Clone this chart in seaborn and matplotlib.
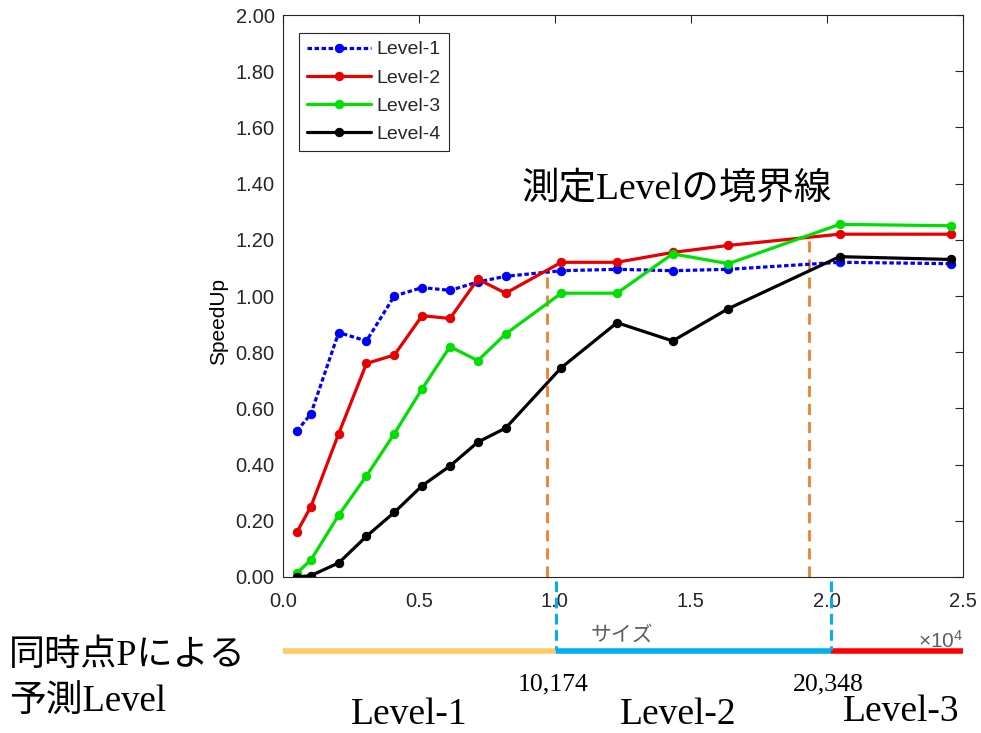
import numpy as np
import pandas as pd
import matplotlib
matplotlib.use("Agg")
import matplotlib.pyplot as plt
import matplotlib.transforms as mtransforms
import seaborn as sns

# ---------------- data ----------------
sizes = [512, 1024, 2048, 3072, 4096, 5120, 6144, 7168, 8192,
         10240, 12288, 14336, 16384, 20480, 24576]
level1 = [0.52, 0.58, 0.87, 0.84, 1.00, 1.03, 1.02, 1.05, 1.07,
          1.09, 1.095, 1.09, 1.095, 1.12, 1.115]
level2 = [0.16, 0.25, 0.51, 0.76, 0.79, 0.93, 0.92, 1.06, 1.01,
          1.12, 1.12, 1.155, 1.18, 1.22, 1.22]
level3 = [0.015, 0.06, 0.22, 0.36, 0.51, 0.67, 0.82, 0.77, 0.865,
          1.01, 1.01, 1.15, 1.115, 1.255, 1.25]
level4 = [0.0, 0.005, 0.05, 0.145, 0.23, 0.325, 0.395, 0.48, 0.53,
          0.745, 0.905, 0.84, 0.955, 1.14, 1.13]
series_names = ["Level-1", "Level-2", "Level-3", "Level-4"]
series_colors = ["#0000FF", "#E80000", "#00E000", "#000000"]

measured_boundaries = [0.970, 1.934]          # x 10^4
predicted_boundaries = [1.004, 2.015]         # x 10^4 (drawn)
predicted_labels = ["10,174", "20,348"]
predicted_levels = ["Level-1", "Level-2", "Level-3"]
predicted_colors = ["#FFCB66", "#00B0F0", "#FF0000"]
x_ticks = [0.0, 0.5, 1.0, 1.5, 2.0, 2.5]
y_ticks = [0.0, 0.2, 0.4, 0.6, 0.8, 1.0, 1.2, 1.4, 1.6, 1.8, 2.0]

# ---------------- style ----------------
sns.set_theme(style="white")
plt.rcParams["font.family"] = ["Liberation Sans", "Noto Sans CJK JP"]
plt.rcParams["mathtext.fontset"] = "custom"
plt.rcParams["mathtext.rm"] = "Liberation Sans"

W, H = 981, 733
fig = plt.figure(figsize=(W / 100, H / 100), dpi=100)
ax = fig.add_axes([283 / W, 1 - 577 / H, 679.5 / W, 562 / H])

x_vals = np.array(sizes) / 1e4
df = pd.DataFrame({"x": x_vals, "Level-1": level1, "Level-2": level2,
                   "Level-3": level3, "Level-4": level4})

for name, col in zip(series_names, series_colors):
    ls = (0, (1.4, 0.8)) if name == "Level-1" else "-"
    sns.lineplot(data=df, x="x", y=name, ax=ax, color=col, linestyle=ls,
                 linewidth=2.3, marker="o", markersize=6,
                 markeredgecolor=col, markerfacecolor=col, label=name)

# measured boundary lines (orange dashed), up to the Level-2 curve
for xb in measured_boundaries:
    ytop = np.interp(xb, x_vals, level2)
    ax.plot([xb, xb], [0, ytop], color="#F07F2A", linewidth=2.0,
            linestyle=(0, (4, 2.5)), zorder=1)

ax.set_xlim(0, 2.5)
ax.set_ylim(0, 2.0)
ax.set_xticks(x_ticks)
ax.set_xticklabels([f"{v:.1f}" for v in x_ticks])
ax.set_yticks(y_ticks)
ax.set_yticklabels([f"{v:.2f}" for v in y_ticks])
ax.tick_params(direction="in", length=6, width=0.8, color="#262626",
               labelcolor="#262626", labelsize=14.5, top=True, right=True)
ax.tick_params(axis="x", pad=11)
ax.tick_params(axis="y", pad=6)
for sp in ax.spines.values():
    sp.set_color("#262626")
    sp.set_linewidth(0.8)
ax.set_xlabel("")
ax.set_ylabel("SpeedUp", fontsize=15, color="#000000")
ax.yaxis.set_label_coords(-0.081, 0.455)

leg = ax.legend(loc="upper left", bbox_to_anchor=(0.0235, 0.968),
                borderaxespad=0, fontsize=14, frameon=True, fancybox=False,
                edgecolor="#262626", framealpha=1, handlelength=3.3,
                handletextpad=0.3, labelspacing=0.55, borderpad=0.4)
leg.get_frame().set_linewidth(0.8)

# ---------------- annotations ----------------
def fx(px):
    return px / W

def fy(py):
    return 1 - py / H

serif = ["Liberation Serif", "Noto Sans CJK JP"]

fig.text(fx(677), fy(190), "測定Levelの境界線", fontsize=27, family=serif,
         ha="center", va="center", color="black")

trans = mtransforms.blended_transform_factory(ax.transData, fig.transFigure)
edges = [0.0] + predicted_boundaries + [2.5]
for i, col in enumerate(predicted_colors):
    ax.plot([edges[i], edges[i + 1]], [fy(651), fy(651)], color=col,
            linewidth=4, solid_capstyle="butt", transform=trans, clip_on=False)
for xb in predicted_boundaries:
    ax.plot([xb, xb], [fy(581), fy(650)], color="#00B0F0", linewidth=2.2,
            linestyle=(0, (3.5, 1.8)), transform=trans, clip_on=False)

for xb, lab in zip(predicted_boundaries, predicted_labels):
    fig.text(fx(283 + (xb - 0.01) * 271.8), fy(684), lab, fontsize=18.5,
             family=serif, ha="center", va="center", color="black")

level_centers_px = [409, 678, 901]
level_base_px = [724, 724, 721]
for lab, cx, cy in zip(predicted_levels, level_centers_px, level_base_px):
    fig.text(fx(cx), fy(cy), lab, fontsize=27, family=serif,
             ha="center", va="baseline", color="black")

fig.text(fx(9), fy(656), "同時点Pによる", fontsize=26, family=serif,
         ha="left", va="center", color="black")
fig.text(fx(9), fy(703), "予測Level", fontsize=26.5, family=serif,
         ha="left", va="center", color="black")

fig.text(fx(622), fy(635), "サイズ", fontsize=15, color="#606060",
         ha="center", va="center")
fig.text(fx(963), fy(648), r"$\times\mathregular{10^{4}}$", fontsize=15,
         color="#606060", ha="right", va="baseline")

fig.savefig("out.png", dpi=100)
